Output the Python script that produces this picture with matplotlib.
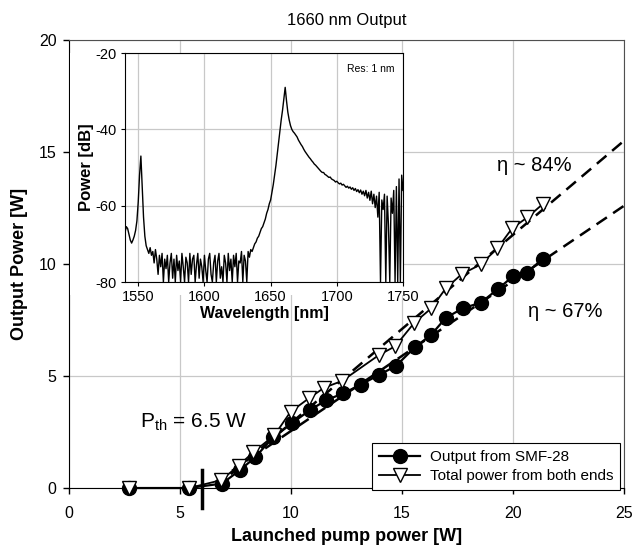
import matplotlib
matplotlib.use("Agg")
import matplotlib.pyplot as plt
import numpy as np
from matplotlib.patches import Rectangle

plt.rcParams['font.family'] = ['Liberation Sans', 'DejaVu Sans']
plt.rcParams['mathtext.fontset'] = 'custom'
plt.rcParams['mathtext.rm'] = 'Liberation Sans'
plt.rcParams['axes.unicode_minus'] = False

# ---------------- data ----------------
pump_smf = [2.7, 5.4, 6.9, 7.7, 8.4, 9.2, 10.05, 10.86, 11.6, 12.35, 13.15, 13.97, 14.73,
            15.6, 16.3, 16.97, 17.75, 18.55, 19.32, 20.0, 20.63, 21.35]
out_smf = [0.0, 0.0, 0.2, 0.8, 1.38, 2.28, 2.9, 3.48, 3.93, 4.22, 4.62, 5.05, 5.45,
           6.3, 6.82, 7.59, 8.03, 8.27, 8.88, 9.45, 9.61, 10.24]

pump_tot = [2.7, 5.4, 6.85, 7.65, 8.3, 9.25, 9.98, 10.8, 11.5, 12.3, 13.97, 14.7,
            15.56, 16.32, 16.98, 17.7, 18.55, 19.3, 19.97, 20.65, 21.35]
out_tot = [0.0, 0.0, 0.35, 1.0, 1.6, 2.35, 3.4, 4.0, 4.48, 4.78, 5.94, 6.33,
           7.38, 8.02, 8.92, 9.55, 9.98, 10.7, 11.6, 12.08, 12.68]

thresh_marker_x = 6.0
eta_values = [0.84, 0.67]
eta_x0 = [6.55, 6.2]
eta_labels = ['η ~ 84%', 'η ~ 67%']

x_ticks = [0, 5, 10, 15, 20, 25]
y_ticks = [0, 5, 10, 15, 20]

# spectrum (1 nm steps from 1540 nm)
wl_start = 1540
spec_db = [
    -67, -65.5, -66, -67.5, -69, -69.8, -69, -68, -66.5, -64,
    -59, -52, -47, -55, -63, -68, -70.5, -71.5, -72.5, -71,
    -73, -72, -75, -71.5, -74, -78, -73, -76, -72.5, -80,
    -74, -76.5, -73, -80, -75, -72.5, -79, -74, -80, -73,
    -77, -74.5, -80, -72.5, -76, -80, -73.5, -75, -80, -72.5,
    -78, -74, -73, -80, -75.5, -72.5, -79, -74, -76, -80,
    -73, -77, -80, -74, -72.5, -78, -80, -75, -73, -80,
    -74.5, -72.5, -79, -76, -80, -73, -75, -80, -72.5, -77,
    -74, -80, -73, -76, -72.5, -80, -74.5, -75, -72, -80,
    -73, -74.5, -80, -72, -73.5, -71.5, -72, -71, -70, -69.5,
    -68.5, -68, -67, -66, -65.5, -64.5, -63.5, -62, -61, -59.5,
    -58.5, -56.5, -54.5, -52, -49.5, -46.5, -43.5, -40.5, -37.5, -35,
    -32, -29, -32.5, -35.5, -37.5, -39, -40, -40.6, -41, -41.5,
    -42, -42.8, -43.4, -44, -44.5, -45.2, -45.8, -46.3, -46.8, -47.3,
    -47.7, -48.2, -48.6, -49.1, -49.4, -49.8, -50.2, -50.6, -51, -51.3,
    -51.3, -51.8, -52, -52.3, -52.6, -52.5, -53, -53.2, -53.4, -53.8,
    -53.6, -54, -54.3, -54.1, -54.6, -54.4, -54.8, -55.2, -54.9, -55.4,
    -55.1, -55.7, -55.3, -56, -55.5, -56.3, -55.8, -56.6, -55.9, -57,
    -56.2, -57.4, -56, -58, -56.5, -58.6, -56.2, -59.5, -57, -60.5,
    -57.5, -63, -56.5, -80, -58.5, -61, -57, -80, -57.5, -65,
    -80, -58, -62, -56, -80, -55, -80, -53, -80, -52,
    -56,
]
wavelength = [wl_start + i for i in range(len(spec_db))]

# ---------------- figure ----------------
fig = plt.figure(figsize=(6.4, 5.58), dpi=100)
ax = fig.add_axes([0.1078, 0.1254, 0.867, 0.8029])

ax.set_xlim(0, 25)
ax.set_ylim(0, 20)
ax.set_xticks(x_ticks)
ax.set_yticks(y_ticks)
ax.set_axisbelow(True)
ax.grid(True, color='#c8c8c8', lw=0.9)
ax.tick_params(direction='out', length=4, width=1, labelsize=11.5)
ax.tick_params(axis='x', pad=9)
ax.tick_params(axis='y', pad=5)
for s in ['top', 'right']:
    ax.spines[s].set_color('#505050')
for s in ['left', 'bottom']:
    ax.spines[s].set_color('black')

ax.plot(pump_smf, out_smf, '-', color='black', lw=1.6, marker='o', ms=10,
        mfc='black', mec='black', clip_on=False, zorder=4, label='Output from SMF-28')
ax.plot(pump_tot, out_tot, '-', color='black', lw=1.3, marker='v', ms=10.5,
        mfc='white', mec='black', mew=1.0, clip_on=False, zorder=5,
        label='Total power from both ends')

xs = np.array([6.6, 25.0])
for eta, x0 in zip(eta_values, eta_x0):
    ax.plot(xs, eta * (xs - x0), '--', color='black', lw=1.8, dashes=(5, 3), zorder=3)

ax.plot([thresh_marker_x, thresh_marker_x], [-0.9, 0.8], color='black', lw=2.5,
        clip_on=False, zorder=6)

ax.text(3.2, 2.7, r'P$_{\rm th}$ = 6.5 W', fontsize=15, ha='left', va='baseline')
ax.text(19.3, 14.4, eta_labels[0], fontsize=14.5, ha='left', va='center')
ax.text(20.7, 7.9, eta_labels[1], fontsize=14.5, ha='left', va='center')

ax.set_title('1660 nm Output', fontsize=12, pad=11)
ax.set_xlabel('Launched pump power [W]', fontsize=13, fontweight='bold', labelpad=5)
ax.set_ylabel('Output Power [W]', fontsize=13, fontweight='bold', labelpad=8)

leg = ax.legend(loc='lower right', bbox_to_anchor=(0.993, -0.004), fontsize=11,
                frameon=True, fancybox=False, edgecolor='black', framealpha=1,
                borderaxespad=0, handlelength=2.7, borderpad=0.45, labelspacing=0.3,
                handletextpad=0.6)
leg.get_frame().set_linewidth(0.8)

# white area behind inset
fig.add_artist(Rectangle((0.110, 0.471), 0.520, 0.434, transform=fig.transFigure,
                         facecolor='white', edgecolor='none', zorder=0.5))

# ---------------- inset ----------------
axi = fig.add_axes([0.1953, 0.4946, 0.4344, 0.4104])
axi.set_zorder(1)
axi.plot(wavelength, spec_db, color='black', lw=1.0)
axi.set_xlim(1540, 1750)
axi.set_ylim(-80, -20)
axi.set_xticks([1550, 1600, 1650, 1700, 1750])
axi.set_yticks([-20, -40, -60, -80])
axi.grid(True, color='#c8c8c8', lw=0.9)
axi.set_axisbelow(True)
axi.tick_params(direction='out', length=3, labelsize=10.5, pad=3)
axi.set_xlabel('Wavelength [nm]', fontsize=11.5, fontweight='bold', labelpad=1)
axi.set_ylabel('Power [dB]', fontsize=12, fontweight='bold', labelpad=1)
axi.text(0.97, 0.95, 'Res: 1 nm', transform=axi.transAxes, fontsize=7.5,
         ha='right', va='top')

fig.savefig('out.png', dpi=100)
